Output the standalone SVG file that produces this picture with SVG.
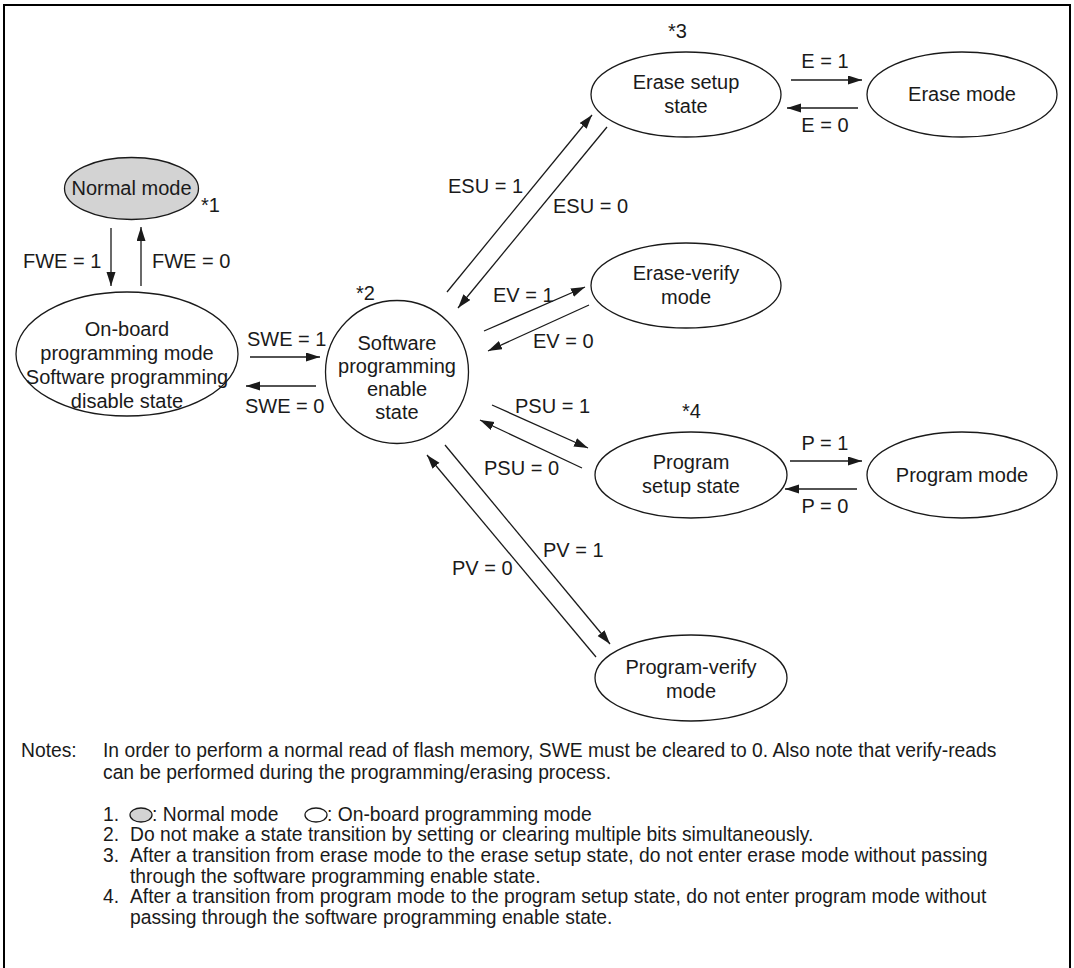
<svg xmlns="http://www.w3.org/2000/svg" width="1074" height="968" viewBox="0 0 1074 968">
<style>
text{font-family:"Liberation Sans",Arial,sans-serif;fill:#1a1a1a}
.lb{font-size:20px}
.nt{font-size:19.3px}
.c{text-anchor:middle}
.node{fill:#fff;stroke:#1a1a1a;stroke-width:1.3}
.gray{fill:#d3d3d3}
.cn line{stroke:#1a1a1a;stroke-width:1.3;marker-end:url(#ah)}
</style>
<defs>
<marker id="ah" markerUnits="userSpaceOnUse" markerWidth="15" markerHeight="10" refX="14" refY="4.5" orient="auto">
<path d="M0,0 L14,4.5 L0,9 z" fill="#1a1a1a"/>
</marker>
</defs>
<rect x="0" y="0" width="1074" height="968" fill="#fff"/>
<rect x="4" y="5" width="1066" height="1000" fill="none" stroke="#000" stroke-width="2"/>

<g id="normal">
<ellipse class="node gray" cx="131.5" cy="188.5" rx="67" ry="31"/>
<text class="lb c" x="131.5" y="195">Normal mode</text>
<text class="lb" x="201" y="212">*1</text>
</g>
<g id="onboard">
<ellipse class="node" cx="127" cy="354" rx="111" ry="62"/>
<text class="lb c" x="127" y="336">On-board</text>
<text class="lb c" x="127" y="360">programming mode</text>
<text class="lb c" x="127" y="384">Software programming</text>
<text class="lb c" x="127" y="408">disable state</text>
</g>
<g id="swpe">
<circle class="node" cx="397" cy="372" r="71.5"/>
<text class="lb c" x="397" y="350">Software</text>
<text class="lb c" x="397" y="373">programming</text>
<text class="lb c" x="397" y="396">enable</text>
<text class="lb c" x="397" y="419">state</text>
<text class="lb" x="356" y="300">*2</text>
</g>
<g id="erasesetup">
<ellipse class="node" cx="686" cy="94.5" rx="95" ry="42.5"/>
<text class="lb c" x="686" y="89">Erase setup</text>
<text class="lb c" x="686" y="113">state</text>
<text class="lb" x="668" y="38">*3</text>
</g>
<g id="erasemode">
<ellipse class="node" cx="962" cy="94.5" rx="95" ry="42.5"/>
<text class="lb c" x="962" y="101">Erase mode</text>
</g>
<g id="eraseverify">
<ellipse class="node" cx="686" cy="285.5" rx="95" ry="42.5"/>
<text class="lb c" x="686" y="280">Erase-verify</text>
<text class="lb c" x="686" y="304">mode</text>
</g>
<g id="progsetup">
<ellipse class="node" cx="691" cy="475" rx="96" ry="43"/>
<text class="lb c" x="691" y="469">Program</text>
<text class="lb c" x="691" y="493">setup state</text>
<text class="lb" x="682" y="418">*4</text>
</g>
<g id="progmode">
<ellipse class="node" cx="962" cy="475" rx="95" ry="43"/>
<text class="lb c" x="962" y="482">Program mode</text>
</g>
<g id="progverify">
<ellipse class="node" cx="691" cy="678" rx="96" ry="43"/>
<text class="lb c" x="691" y="674">Program-verify</text>
<text class="lb c" x="691" y="698">mode</text>
</g>

<g id="connectors" class="cn">
<line x1="111" y1="228" x2="111" y2="286"/>
<line x1="141" y1="286" x2="141" y2="227"/>
<line x1="250" y1="357" x2="320" y2="357"/>
<line x1="316" y1="386" x2="246" y2="386"/>
<line x1="447" y1="292" x2="592" y2="115"/>
<line x1="607" y1="127" x2="458" y2="308"/>
<line x1="484" y1="331" x2="585" y2="287"/>
<line x1="589" y1="305" x2="488" y2="351"/>
<line x1="492" y1="405" x2="588" y2="448"/>
<line x1="582" y1="468" x2="480" y2="420"/>
<line x1="445" y1="445" x2="610" y2="644"/>
<line x1="596" y1="657" x2="427" y2="455"/>
<line x1="791" y1="80" x2="862" y2="80"/>
<line x1="858" y1="108" x2="787" y2="108"/>
<line x1="790" y1="461" x2="862" y2="461"/>
<line x1="857" y1="489" x2="785" y2="489"/>
</g>

<g id="labels">
<text class="lb" x="23" y="268">FWE = 1</text>
<text class="lb" x="152" y="268">FWE = 0</text>
<text class="lb" x="247" y="346">SWE = 1</text>
<text class="lb" x="245" y="413">SWE = 0</text>
<text class="lb" x="448" y="193">ESU = 1</text>
<text class="lb" x="553" y="213">ESU = 0</text>
<text class="lb" x="493" y="302">EV = 1</text>
<text class="lb" x="533" y="348">EV = 0</text>
<text class="lb" x="515" y="413">PSU = 1</text>
<text class="lb" x="484" y="475">PSU = 0</text>
<text class="lb" x="543" y="557">PV = 1</text>
<text class="lb" x="452" y="575">PV = 0</text>
<text class="lb c" x="825" y="68">E = 1</text>
<text class="lb c" x="825" y="132">E = 0</text>
<text class="lb c" x="825" y="450">P = 1</text>
<text class="lb c" x="825" y="513">P = 0</text>
</g>

<g id="notes">
<text class="nt" x="21" y="757">Notes:</text>
<text class="nt" x="103" y="757">In order to perform a normal read of flash memory, SWE must be cleared to 0. Also note that verify-reads</text>
<text class="nt" x="103" y="779">can be performed during the programming/erasing process.</text>
<text class="nt" x="103" y="821">1.</text>
<ellipse class="node gray" cx="141" cy="815" rx="11" ry="7"/>
<text class="nt" x="152" y="821">: Normal mode</text>
<ellipse class="node" cx="316" cy="815" rx="11" ry="7"/>
<text class="nt" x="327" y="821">: On-board programming mode</text>
<text class="nt" x="103" y="841">2.</text>
<text class="nt" x="130" y="841">Do not make a state transition by setting or clearing multiple bits simultaneously.</text>
<text class="nt" x="103" y="862">3.</text>
<text class="nt" x="130" y="862">After a transition from erase mode to the erase setup state, do not enter erase mode without passing</text>
<text class="nt" x="130" y="883">through the software programming enable state.</text>
<text class="nt" x="103" y="903">4.</text>
<text class="nt" x="130" y="903">After a transition from program mode to the program setup state, do not enter program mode without</text>
<text class="nt" x="130" y="924">passing through the software programming enable state.</text>
</g>
</svg>
